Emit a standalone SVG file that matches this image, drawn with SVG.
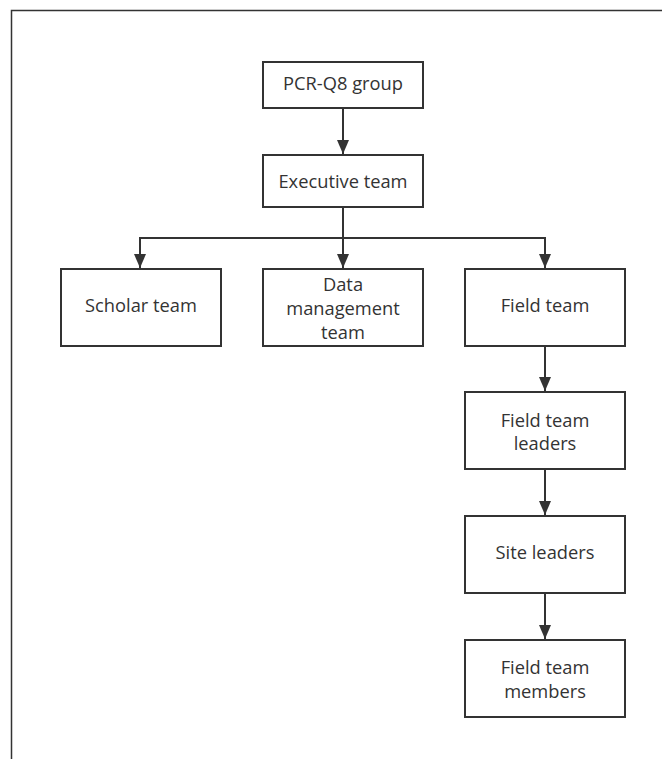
<svg xmlns="http://www.w3.org/2000/svg" width="662" height="759" viewBox="0 0 662 759">
<defs>
<style>
.box{fill:#fff;stroke:#333;stroke-width:2}
.t{font-family:"Open Sans","Noto Sans",sans-serif;font-size:18.3px;fill:#333;text-anchor:middle}
.c{fill:none;stroke:#333;stroke-width:2}
</style>
<marker id="ah" viewBox="0 0 14 12" refX="14" refY="6" markerWidth="14" markerHeight="12" markerUnits="userSpaceOnUse" orient="auto">
<path d="M0,0 L14,6 L0,12 Z" fill="#333"/>
</marker>
</defs>
<rect width="662" height="759" fill="#fff"/>
<path d="M11.5,759 V10.5 H662" fill="none" stroke="#333" stroke-width="1.5"/>
<g id="connectors">
<path class="c" d="M343,108 V154" marker-end="url(#ah)"/>
<path class="c" d="M343,207 V268" marker-end="url(#ah)"/>
<path class="c" d="M140,268 V238 H545 V268" marker-end="url(#ah)"/>
<path class="c" d="M140,238 V268" marker-end="url(#ah)"/>
<path class="c" d="M545,346 V391" marker-end="url(#ah)"/>
<path class="c" d="M545,469 V515" marker-end="url(#ah)"/>
<path class="c" d="M545,593 V639" marker-end="url(#ah)"/>
</g>
<g id="pcr">
<rect class="box" x="263" y="62" width="160" height="46"/>
<text class="t" x="343" y="90">PCR-Q8 group</text>
</g>
<g id="exec">
<rect class="box" x="263" y="155" width="160" height="52"/>
<text class="t" x="343" y="188">Executive team</text>
</g>
<g id="scholar">
<rect class="box" x="61" y="269" width="160" height="77"/>
<text class="t" x="141" y="312">Scholar team</text>
</g>
<g id="data">
<rect class="box" x="263" y="269" width="160" height="77"/>
<text class="t" x="343" y="291">Data</text>
<text class="t" x="343" y="315">management</text>
<text class="t" x="343" y="339">team</text>
</g>
<g id="field">
<rect class="box" x="465" y="269" width="160" height="77"/>
<text class="t" x="545" y="312">Field team</text>
</g>
<g id="ftleaders">
<rect class="box" x="465" y="392" width="160" height="77"/>
<text class="t" x="545" y="427">Field team</text>
<text class="t" x="545" y="450">leaders</text>
</g>
<g id="site">
<rect class="box" x="465" y="516" width="160" height="77"/>
<text class="t" x="545" y="559">Site leaders</text>
</g>
<g id="members">
<rect class="box" x="465" y="640" width="160" height="77"/>
<text class="t" x="545" y="674">Field team</text>
<text class="t" x="545" y="698">members</text>
</g>
</svg>
